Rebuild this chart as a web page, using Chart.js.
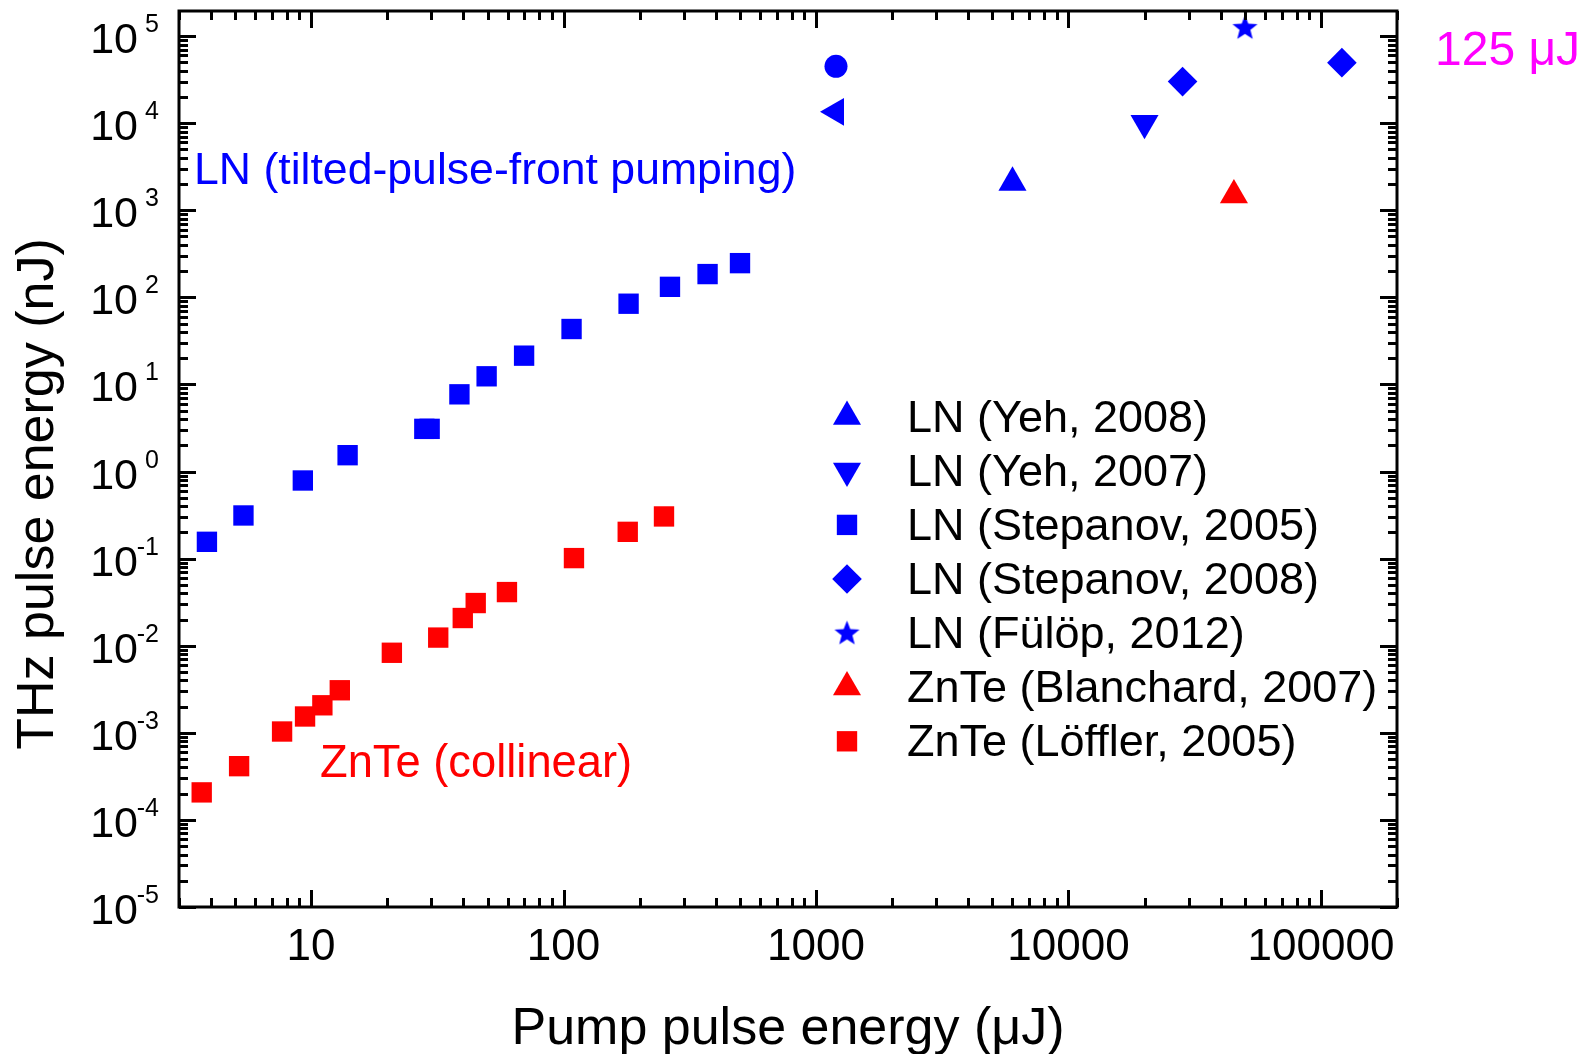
<!DOCTYPE html>
<html><head><meta charset="utf-8">
<script src="https://cdn.jsdelivr.net/npm/chart.js@4.4.1/dist/chart.umd.min.js"></script>
<style>html,body{margin:0;padding:0;background:#fff;overflow:hidden}#wrap{width:1581px;height:1054px;position:relative}</style>
</head><body><div id="wrap"><canvas id="c"></canvas></div>
<script>
const FONT = '"Liberation Sans", Arial, Helvetica, sans-serif';
const BLUE = '#0000ff', RED = '#ff0000', MAGENTA = '#ff00ff';

// axis ranges and tick labels
const xRange = [3, 200000];
const yRange = [1e-5, 1.94e5];
const xTickValues = [10, 100, 1000, 10000, 100000];
const xTickLabels = ['10', '100', '1000', '10000', '100000'];
const yTickExponents = [-5, -4, -3, -2, -1, 0, 1, 2, 3, 4, 5];

// series (pump energy in µJ, THz energy in nJ)
const yeh2008X = [6000];
const yeh2008Y = [2080];
const yeh2007X = [20000];
const yeh2007Y = [10000];
const stepanov2005X = [3.87, 5.40, 9.28, 13.96, 28.1, 29.5, 38.7, 49.6, 69.8, 107.6, 181, 264, 372, 500];
const stepanov2005Y = [0.156, 0.313, 0.789, 1.54, 3.09, 3.09, 7.70, 12.4, 21.4, 43.3, 84.5, 132, 185, 247];
const stepanov2008X = [28300, 121000];
const stepanov2008Y = [30000, 49500];
const fulop2012X = [50000];
const fulop2012Y = [125000];
const blanchard2007X = [45200];
const blanchard2007Y = [1490];
const loeffler2005X = [3.69, 5.19, 7.68, 9.47, 11.09, 13.0, 20.9, 31.9, 39.9, 44.9, 59.7, 110, 179.6, 250];
const loeffler2005Y = [2.07e-4, 4.14e-4, 1.035e-3, 1.54e-3, 2.07e-3, 3.08e-3, 8.3e-3, 0.0124, 0.0208, 0.0309, 0.0413, 0.1014, 0.203, 0.305];
const extraCircleX = [1200];
const extraCircleY = [45000];
const extraLeftTriX = [1200];
const extraLeftTriY = [13500];

const legendLabels = ['LN (Yeh, 2008)', 'LN (Yeh, 2007)', 'LN (Stepanov, 2005)', 'LN (Stepanov, 2008)',
  'LN (Fülöp, 2012)', 'ZnTe (Blanchard, 2007)', 'ZnTe (Löffler, 2005)'];

function makeStar(R, ratio, color) {
  const s = Math.ceil(2 * R + 2);
  const c = document.createElement('canvas');
  c.width = s; c.height = s;
  const g = c.getContext('2d');
  g.fillStyle = color;
  g.beginPath();
  for (let i = 0; i < 10; i++) {
    const r = i % 2 ? R * ratio : R;
    const a = -Math.PI / 2 + i * Math.PI / 5;
    g.lineTo(s / 2 + r * Math.cos(a), s / 2 + 0.6 + r * Math.sin(a));
  }
  g.closePath();
  g.fill();
  return c;
}
const starImg = makeStar(13.2, 0.43, BLUE);

function ds(label, xs, ys, color, style, radius, rotation, inLegend) {
  return {
    label,
    data: xs.map((v, i) => ({ x: v, y: ys[i] })),
    backgroundColor: color, borderColor: color, borderWidth: 0,
    pointStyle: style, pointRadius: radius, pointHoverRadius: radius,
    pointRotation: rotation || 0, showLine: false, inLegend
  };
}

const datasets = [
  ds(legendLabels[0], yeh2008X, yeh2008Y, BLUE, 'triangle', 16.2, 0, true),
  ds(legendLabels[1], yeh2007X, yeh2007Y, BLUE, 'triangle', 16.2, 180, true),
  ds(legendLabels[2], stepanov2005X, stepanov2005Y, BLUE, 'rect', 14.4, 0, true),
  ds(legendLabels[3], stepanov2008X, stepanov2008Y, BLUE, 'rectRot', 14.8, 0, true),
  ds(legendLabels[4], fulop2012X, fulop2012Y, BLUE, starImg, 13, 0, true),
  ds(legendLabels[5], blanchard2007X, blanchard2007Y, RED, 'triangle', 16.2, 0, true),
  ds(legendLabels[6], loeffler2005X, loeffler2005Y, RED, 'rect', 14.4, 0, true),
  ds('LN (circle)', extraCircleX, extraCircleY, BLUE, 'circle', 11.5, 0, false),
  ds('LN (left triangle)', extraLeftTriX, extraLeftTriY, BLUE, 'triangle', 16, 270, false)
];

function near(v, lo, hi) { return v >= lo * 0.999 && v <= hi * 1.001; }

const decorations = {
  id: 'decorations',
  afterDatasetsDraw(chart) {
    const { ctx, chartArea: a, scales: { x, y } } = chart;
    ctx.save();
    // minor + major ticks (inward, all four sides)
    ctx.strokeStyle = '#000';
    ctx.lineWidth = 3;
    ctx.lineCap = 'butt';
    ctx.beginPath();
    for (let k = -6; k <= 6; k++) {
      for (let m = 1; m <= 9; m++) {
        const v = m * Math.pow(10, k);
        const len = m === 1 ? 17 : 9;
        if (near(v, xRange[0], xRange[1])) {
          const px = Math.round(x.getPixelForValue(v)) + 0.5;
          ctx.moveTo(px, a.bottom); ctx.lineTo(px, a.bottom - len);
          ctx.moveTo(px, a.top); ctx.lineTo(px, a.top + len);
        }
        if (near(v, yRange[0], yRange[1])) {
          const py = Math.round(y.getPixelForValue(v)) + 0.5;
          ctx.moveTo(a.left, py); ctx.lineTo(a.left + len, py);
          ctx.moveTo(a.right, py); ctx.lineTo(a.right - len, py);
        }
      }
    }
    ctx.stroke();
    ctx.lineWidth = 3;
    ctx.strokeRect(a.left, a.top, a.right - a.left, a.bottom - a.top);

    // x tick labels
    ctx.fillStyle = '#000';
    ctx.font = '44px ' + FONT;
    ctx.textAlign = 'center';
    ctx.textBaseline = 'alphabetic';
    xTickValues.forEach((v, i) => {
      ctx.fillText(xTickLabels[i], x.getPixelForValue(v), 960);
    });

    // y tick labels 10^n
    yTickExponents.forEach(e => {
      const py = y.getPixelForValue(Math.pow(10, e));
      ctx.font = '43px ' + FONT;
      ctx.textAlign = 'right';
      ctx.fillText('10', 138, py + 17);
      ctx.font = '25px ' + FONT;
      ctx.textAlign = 'right';
      ctx.fillText(String(e), 159, py - 4);
    });

    // axis titles
    ctx.font = '52px ' + FONT;
    ctx.textAlign = 'center';
    ctx.fillText('Pump pulse energy (\u03BCJ)', (a.left + a.right) / 2, 1044);
    ctx.save();
    ctx.translate(53, 494);
    ctx.rotate(-Math.PI / 2);
    ctx.fillText('THz pulse energy (nJ)', 0, 0);
    ctx.restore();

    // annotations
    ctx.textAlign = 'left';
    ctx.font = '44.6px ' + FONT;
    ctx.fillStyle = BLUE;
    ctx.fillText('LN (tilted-pulse-front pumping)', 194, 184);
    ctx.font = '45.3px ' + FONT;
    ctx.fillStyle = RED;
    ctx.fillText('ZnTe (collinear)', 320, 777);
    ctx.fillStyle = MAGENTA;
    ctx.font = '48px ' + FONT;
    ctx.fillText('125 \u03BCJ', 1435, 65);

    // legend
    ctx.font = '45px ' + FONT;
    const legendItems = chart.data.datasets.filter(d => d.inLegend);
    legendItems.forEach((d, i) => {
      const base = 431.7 + 54.1 * i;
      const cy = base - 15;
      ctx.fillStyle = d.backgroundColor;
      ctx.strokeStyle = d.borderColor;
      Chart.helpers.drawPoint(ctx, {
        pointStyle: d.pointStyle, rotation: d.pointRotation,
        radius: d.pointRadius, borderWidth: 0
      }, 847, cy);
      ctx.fillStyle = '#000';
      ctx.fillText(d.label, 907, base);
    });
    ctx.restore();
  }
};

new Chart(document.getElementById('c'), {
  type: 'scatter',
  data: { datasets },
  options: {
    responsive: true,
    maintainAspectRatio: false,
    animation: false,
    devicePixelRatio: 1,
    layout: { autoPadding: false, padding: { left: 179, right: 184, top: 11, bottom: 147 } },
    plugins: { legend: { display: false }, tooltip: { enabled: false } },
    scales: {
      x: {
        type: 'logarithmic', min: xRange[0], max: xRange[1],
        ticks: { display: false }, title: { display: false },
        grid: { display: false, drawTicks: false }, border: { display: false }
      },
      y: {
        type: 'logarithmic', min: yRange[0], max: yRange[1],
        ticks: { display: false }, title: { display: false },
        grid: { display: false, drawTicks: false }, border: { display: false }
      }
    }
  },
  plugins: [decorations]
});
</script>
</body></html>
